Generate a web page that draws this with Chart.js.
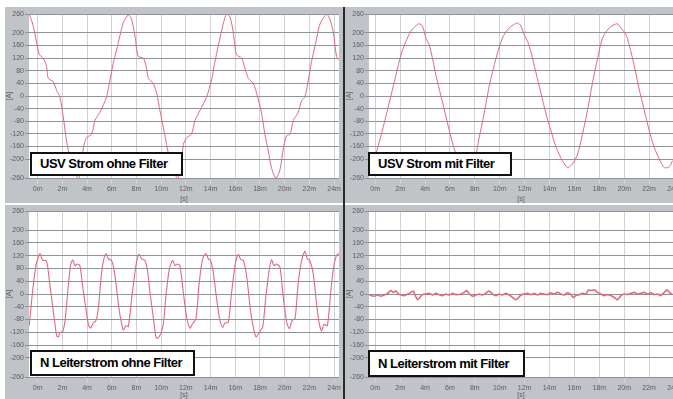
<!DOCTYPE html>
<html>
<head>
<meta charset="utf-8">
<script src="https://cdn.jsdelivr.net/npm/chart.js@4.4.1/dist/chart.umd.min.js"></script>
<style>
  body { margin: 0; background: #fff; }
  #wrap { position: relative; width: 673px; height: 399px; overflow: hidden; background: #fff; }
  .panel { position: absolute; background: #c0c4c8; }
  .panel canvas { position: absolute; left: 0; top: 0; }
  .tag {
    position: absolute; box-sizing: border-box; background: #fff; border: 2px solid #111;
    font: bold 13px "Liberation Sans", Arial, sans-serif; letter-spacing: -0.5px;
    color: #000; padding-left: 8px; white-space: nowrap;
  }
  #sep { position: absolute; left: 343px; top: 7px; width: 2px; height: 392px; background: #2a2a2a; }
</style>
</head>
<body>
<div id="wrap">
  <div class="panel" style="left:5px;top:7px;width:338px;height:196px"><canvas id="c1" width="338" height="196"></canvas></div>
  <div class="panel" style="left:345px;top:7px;width:328px;height:196px"><canvas id="c2" width="328" height="196"></canvas></div>
  <div class="panel" style="left:5px;top:205px;width:338px;height:194px"><canvas id="c3" width="338" height="194"></canvas></div>
  <div class="panel" style="left:345px;top:205px;width:328px;height:194px"><canvas id="c4" width="328" height="194"></canvas></div>
  <div id="sep"></div>
  <div class="tag" style="left:30px;top:152px;width:153px;height:24px;line-height:20px">USV Strom ohne Filter</div>
  <div class="tag" style="left:368px;top:152px;width:144px;height:24px;line-height:20px">USV Strom mit Filter</div>
  <div class="tag" style="left:30px;top:350px;width:165px;height:26px;line-height:22px">N Leiterstrom ohne Filter</div>
  <div class="tag" style="left:368px;top:350px;width:157px;height:27px;line-height:23px">N Leiterstrom mit Filter</div>
</div>
<script>
const FONT = '"Liberation Sans", Arial, sans-serif';
const LINE_COLOR = "#e06a7c";

// axis ticks (same for all four panels)
const Y_TICKS = [-260, -200, -160, -120, -80, -40, 0, 40, 80, 120, 160, 200, 260];
const Y_TICK_LABELS = ["-260", "-200", "-160", "-120", "-80", "-40", "0", "40", "80", "120", "160", "200", "260"];
const X_TICKS = [0, 1, 2, 3, 4, 5, 6, 7, 8, 9, 10, 11, 12];
const X_TICK_LABELS = ["0m", "2m", "4m", "6m", "8m", "10m", "12m", "14m", "16m", "18m", "20m", "22m", "24m"];

// USV Strom ohne Filter
const usvOhneX = [-0.34, -0.18, -0.04, 0.07, 0.23, 0.36, 0.43, 0.63, 0.77, 0.9, 1.04, 1.17, 1.31, 1.47, 1.65, 1.78, 1.85, 1.98, 2.19, 2.32, 2.52, 2.79, 2.93, 3.06, 3.2, 3.47, 3.67, 3.8, 3.94, 4.07, 4.28, 4.41, 4.48, 4.68, 4.82, 4.95, 5.09, 5.22, 5.36, 5.49, 5.67, 5.8, 5.9, 6.03, 6.23, 6.37, 6.57, 6.84, 7.04, 7.18, 7.31, 7.51, 7.65, 7.79, 7.92, 8.05, 8.26, 8.39, 8.53, 8.73, 8.87, 9.07, 9.2, 9.34, 9.47, 9.65, 9.81, 9.95, 10.08, 10.22, 10.35, 10.55, 10.69, 10.82, 10.96, 11.09, 11.23, 11.43, 11.7, 11.83, 11.97, 12.1, 12.2];
const usvOhneY = [260, 223, 169, 131, 120, 94, 56, 45, 18, -3, -68, -143, -197, -240, -261, -229, -164, -132, -121, -78, -52, -3, 51, 104, 147, 233, 257, 244, 190, 126, 120, 88, 56, 40, 8, -46, -100, -154, -207, -240, -261, -229, -154, -132, -121, -78, -46, -3, 51, 110, 158, 228, 260, 250, 201, 131, 120, 88, 56, 40, 8, -57, -121, -175, -229, -261, -234, -164, -126, -121, -78, -52, -14, -3, 51, 110, 158, 228, 260, 244, 201, 126, 115];

// USV Strom mit Filter
const usvMitX = [-0.24, 0, 0.29, 0.56, 0.83, 1.03, 1.23, 1.43, 1.63, 1.77, 1.9, 2.03, 2.17, 2.3, 2.44, 2.64, 2.84, 3.04, 3.24, 3.48, 3.73, 3.98, 4.18, 4.38, 4.58, 4.85, 5.11, 5.38, 5.72, 5.85, 5.98, 6.12, 6.25, 6.45, 6.65, 6.85, 7.05, 7.26, 7.52, 7.72, 7.92, 8.13, 8.33, 8.53, 8.73, 8.93, 9.13, 9.4, 9.71, 9.87, 10.07, 10.2, 10.4, 10.6, 10.8, 11, 11.2, 11.41, 11.61, 11.81, 11.94];
const usvMitY = [-225, -189, -108, -22, 65, 130, 173, 205, 222, 229, 222, 184, 162, 119, 65, 0, -65, -130, -184, -222, -229, -205, -130, -54, 32, 119, 184, 216, 232, 222, 195, 173, 141, 76, 11, -54, -108, -162, -205, -227, -216, -184, -119, -43, 43, 119, 184, 216, 229, 216, 195, 162, 97, 22, -43, -108, -162, -200, -227, -225, -205];

// N Leiterstrom ohne Filter
const nOhneX = [-0.34, -0.24, -0.18, -0.07, 0.03, 0.09, 0.16, 0.23, 0.34, 0.4,
  0.5, 0.61, 0.7, 0.77, 0.84, 0.9, 1.01, 1.11, 1.24, 1.33,
  1.42, 1.51, 1.6, 1.71, 1.82, 1.96, 2.05, 2.14, 2.25, 2.36,
  2.45, 2.59, 2.68, 2.77, 2.86, 2.99, 3.09, 3.2, 3.3, 3.4,
  3.47, 3.57, 3.67, 3.8, 3.94, 4.03, 4.11, 4.21, 4.34, 4.44,
  4.55, 4.68, 4.79, 4.86, 4.98, 5.09, 5.19, 5.33, 5.46, 5.56,
  5.65, 5.76, 5.9, 6.03, 6.17, 6.27, 6.41, 6.54, 6.68, 6.81,
  6.91, 7, 7.11, 7.25, 7.38, 7.49, 7.58, 7.72, 7.85, 7.99,
  8.12, 8.22, 8.33, 8.46, 8.6, 8.73, 8.84, 8.97, 9.11, 9.24,
  9.38, 9.47, 9.57, 9.67, 9.81, 9.94, 10.08, 10.19, 10.3, 10.42,
  10.55, 10.69, 10.82, 10.92, 11.02, 11.16, 11.29, 11.4, 11.5, 11.59,
  11.73, 11.86, 11.97, 12.1, 12.2];
const nOhneY = [-99, -18, 25, 89, 116, 127, 113, 105, 105, 89,
  25, -40, -93, -131, -134, -120, -118, -83, 25, 89,
  107, 89, 94, 89, 25, -50, -93, -107, -91, -83,
  -50, 68, 110, 127, 110, 105, 78, 14, -50, -93,
  -113, -99, -102, -18, 68, 110, 124, 110, 105, 78,
  3, -72, -136, -138, -125, -93, -8, 78, 105, 89,
  94, 89, 3, -72, -107, -93, -77, 35, 110, 127,
  110, 105, 68, -18, -83, -104, -91, -88, 3, 89,
  124, 108, 105, 57, -40, -104, -134, -120, -104, -8,
  78, 107, 89, 94, 84, -8, -88, -109, -83, -77,
  35, 105, 134, 110, 105, 62, -29, -93, -115, -95,
  -99, 3, 78, 121, 127];

// N Leiterstrom mit Filter
const nMitX = [-0.31, -0.17, -0.04, 0.09, 0.23, 0.36, 0.5, 0.63, 0.72, 0.83,
  0.94, 1.03, 1.16, 1.3, 1.43, 1.53, 1.61, 1.7, 1.79, 1.9,
  2.03, 2.17, 2.3, 2.44, 2.57, 2.7, 2.84, 2.97, 3.11, 3.24,
  3.44, 3.57, 3.68, 3.78, 3.91, 4.04, 4.18, 4.31, 4.44, 4.55,
  4.65, 4.74, 4.85, 4.98, 5.11, 5.25, 5.38, 5.52, 5.65, 5.76,
  5.85, 5.98, 6.12, 6.25, 6.39, 6.52, 6.65, 6.79, 6.92, 7.05,
  7.19, 7.32, 7.46, 7.59, 7.72, 7.86, 7.95, 8.06, 8.19, 8.33,
  8.46, 8.57, 8.66, 8.8, 8.93, 9.06, 9.2, 9.33, 9.46, 9.6,
  9.73, 9.87, 10, 10.13, 10.27, 10.4, 10.54, 10.67, 10.8, 10.94,
  11.07, 11.2, 11.34, 11.47, 11.61, 11.71, 11.81, 11.94];
const nMitY = [0, -5, -7, -3, -7, -3, 2, 11, 5, 9,
  0, -3, -5, 0, 5, 9, -5, -18, -11, -2,
  0, 2, -3, 2, -2, -5, 0, -3, 2, -2,
  0, 5, 11, 0, -7, -3, 0, -3, 2, 9,
  5, -2, -5, 0, -3, 2, -3, -11, -18, -11,
  -3, 0, 2, -2, 2, -3, 2, 0, -2, 4,
  0, 5, 0, -3, 4, -2, -11, -5, -2, 2,
  0, 13, 11, 13, 5, 0, -5, -2, -5, -11,
  -18, -5, 0, -2, 2, 5, 0, 2, 5, 0,
  4, -2, 0, -5, 5, 13, 5, -2];

// white plot area on the grey panel
const plotBackground = {
  id: "plotBackground",
  beforeDraw(chart) {
    const { ctx, chartArea: a } = chart;
    ctx.save();
    ctx.fillStyle = "#fff";
    ctx.fillRect(a.left, a.top, a.right - a.left, a.bottom - a.top);
    ctx.restore();
  },
};

/**
 * @param {Array<number>} xs
 * @param {Array<number>} ys
 * @returns {Array<{x:number,y:number}>}
 */
function toPoints(xs, ys) {
  const n = Math.min(xs.length, ys.length);
  const pts = [];
  for (let i = 0; i < n; i++) pts.push({ x: xs[i], y: ys[i] });
  return pts;
}

function renderScope(canvasId, xs, ys, xMin, xMax, pad, xHeight, lineWidth) {
  const ctx = document.getElementById(canvasId).getContext("2d");
  const tickFont = { family: FONT, size: 7 };
  new Chart(ctx, {
    type: "line",
    data: {
      datasets: [{
        data: toPoints(xs, ys),
        borderColor: LINE_COLOR,
        borderWidth: lineWidth,
        pointRadius: 0,
        tension: 0.25,
        fill: false,
      }],
    },
    options: {
      responsive: false,
      animation: false,
      devicePixelRatio: 1,
      layout: { padding: pad },
      plugins: { legend: { display: false }, tooltip: { enabled: false } },
      scales: {
        x: {
          type: "linear",
          min: xMin,
          max: xMax,
          afterBuildTicks: (s) => { s.ticks = X_TICKS.map((v) => ({ value: v })); },
          afterFit: (s) => { s.height = xHeight; s.paddingLeft = 0; s.paddingRight = 0; },
          ticks: {
            callback: (v, i) => X_TICK_LABELS[i],
            autoSkip: false, maxRotation: 0, font: tickFont, color: "#5a5d60", padding: 1,
          },
          grid: { color: "#d0d2d4", tickLength: 6 },
          border: { display: false },
          title: { display: true, text: "[s]", font: tickFont, color: "#5a5d60", padding: 0 },
        },
        y: {
          min: -260,
          max: 260,
          afterBuildTicks: (s) => { s.ticks = Y_TICKS.map((v) => ({ value: v })); },
          afterFit: (s) => { s.width = 24; },
          ticks: { callback: (v, i) => Y_TICK_LABELS[i], font: tickFont, color: "#5a5d60", padding: 1 },
          grid: { color: "#8e9296", tickLength: 4 },
          border: { display: false },
          title: { display: true, text: "[A]", font: tickFont, color: "#5a5d60", padding: 0 },
        },
      },
    },
    plugins: [plotBackground],
  });
}

document.addEventListener("DOMContentLoaded", () => {
  renderScope("c1", usvOhneX, usvOhneY, -0.35, 12.2, { top: 7, right: 4 }, 25, 1);
  renderScope("c2", usvMitX, usvMitY, -0.25, 11.96, { top: 7, right: 0 }, 25, 1);
  renderScope("c3", nOhneX, nOhneY, -0.35, 12.2, { top: 6, right: 4 }, 22, 1.1);
  renderScope("c4", nMitX, nMitY, -0.25, 11.96, { top: 6, right: 0 }, 22, 1.6);
});
</script>
</body>
</html>
